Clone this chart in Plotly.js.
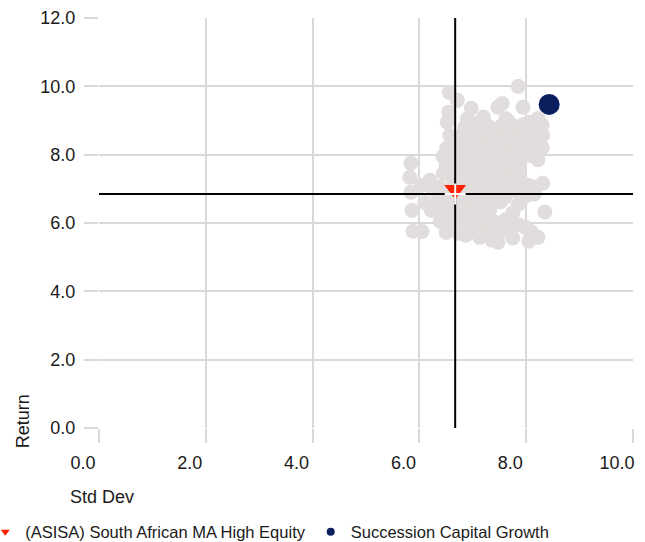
<!DOCTYPE html>
<html>
<head>
<meta charset="utf-8">
<script src="https://cdn.plot.ly/plotly-3.0.1.min.js"></script>
<style>html,body{margin:0;padding:0;background:#fff;}#chart{width:645px;height:542px;}</style>
</head>
<body>
<div id="chart"></div>
<script>
// Peer funds (grey cloud)
const peerStdDev = [5.84,5.82,5.84,5.86,5.88,6.05,6.20,6.25,6.22,6.39,6.50,6.44,6.50,6.56,6.71,6.55,6.52,6.57,6.51,6.97,7.47,7.55,7.85,7.94,8.22,8.30,8.31,8.25,8.22,8.31,8.35,8.22,8.05,8.09,7.75,7.47,7.36,7.13,6.87,6.73,6.62,6.03,6.10,6.35,6.40,6.60,6.58,6.45,6.63,6.65,6.70,6.62,6.85,6.95,7.10,7.20,7.35,7.45,7.60,7.70,7.80,7.90,8.00,8.10,6.80,6.95,7.05,7.15,7.30,7.40,7.50,7.65,7.75,7.90,8.15,6.85,7.00,7.20,7.30,7.45,7.60,7.75,7.95,8.05,6.80,6.95,7.10,7.25,7.40,7.60,7.78,7.85,8.00,6.80,6.95,7.10,7.25,7.30,7.55,7.75,7.85,6.90,7.20,8.30,7.62,8.05,7.83,7.42,7.19,6.99,
  6.82,7.00,7.27,7.52,7.95,8.15,6.78,7.08,7.30,7.55,7.72,7.98,8.18,6.88,7.18,7.38,7.57,7.85,8.05,6.72,7.02,7.22,7.42,7.60,7.82,8.05,6.85,7.05,7.25,7.58,7.88,6.72,7.02,7.35,7.55,7.85,6.78,7.12,7.40,7.68,7.88,8.18,6.88,7.18,7.50,7.95,8.15,6.72,7.00,7.30,7.52,7.92,6.82,7.08,7.32,6.90,7.15,7.42,7.62,6.78,7.05,7.38,7.65,7.98,6.38,6.48,7.65];
const peerReturn = [7.75,7.34,6.90,6.37,5.76,5.75,7.25,6.98,6.37,6.05,5.72,7.95,7.68,9.82,9.59,9.24,8.95,8.56,8.18,9.36,9.39,9.50,10.00,9.39,9.06,8.86,8.57,8.10,7.85,7.16,6.32,5.58,5.47,5.75,5.56,5.44,5.50,5.58,5.64,5.70,5.85,7.10,6.60,6.70,6.35,6.20,6.55,7.45,7.25,7.90,8.35,6.90,8.80,8.55,8.70,8.40,8.65,8.30,8.60,8.90,8.45,8.70,8.30,8.60,8.05,7.80,8.10,7.70,7.95,7.60,7.85,8.10,7.70,7.95,8.00,7.40,7.15,7.35,7.05,7.30,7.10,7.40,7.15,7.10,6.75,6.50,6.80,6.55,6.85,6.75,6.95,6.55,6.80,6.20,5.95,6.25,5.90,6.20,5.85,6.30,5.95,9.05,9.10,8.20,9.05,8.95,8.80,8.71,8.77,8.92,
  8.62,8.78,8.85,8.82,8.88,8.78,8.48,8.45,8.50,8.42,8.55,8.52,8.35,8.25,8.18,8.12,8.22,8.20,8.12,7.72,7.98,8.02,7.92,7.88,7.92,7.98,7.65,7.60,7.55,7.65,7.70,7.45,7.42,7.42,7.50,7.55,7.18,7.22,7.15,7.25,7.30,7.05,6.98,7.00,6.98,6.95,6.85,6.60,6.72,6.75,6.62,6.70,6.42,6.48,6.40,6.18,6.05,6.02,6.10,5.90,5.80,5.75,5.78,5.88,7.05,6.82,9.00];

// Category average and fund
const categoryName = '(ASISA) South African MA High Equity';
const categoryStdDev = [6.67];
const categoryReturn = [6.85];
const fundName = 'Succession Capital Growth';
const fundStdDev = [8.43];
const fundReturn = [9.47];

// Axes
const xTicks = [0, 2, 4, 6, 8, 10];
const yTicks = [0, 2, 4, 6, 8, 10, 12];
const xRange = [0, 10];
const yRange = [0, 12];

const FONT = 'Liberation Sans, Arial, sans-serif';
const GRID = '#d9d9d9';

const traces = [
  {type:'scatter', mode:'markers', x:peerStdDev, y:peerReturn, showlegend:false, hoverinfo:'skip',
   marker:{size:15, color:'#e1dddc', line:{width:0}}},
  {type:'scatter', mode:'lines', x:[categoryStdDev[0], categoryStdDev[0]], y:yRange, showlegend:false,
   line:{color:'#000', width:2}, cliponaxis:false, hoverinfo:'skip'},
  {type:'scatter', mode:'lines', x:xRange, y:[categoryReturn[0], categoryReturn[0]], showlegend:false,
   line:{color:'#000', width:2}, cliponaxis:false, hoverinfo:'skip'},
  {type:'scatter', mode:'markers', x:categoryStdDev, y:categoryReturn, showlegend:false, cliponaxis:false,
   marker:{symbol:'triangle-up', angle:180, standoff:4.3, size:19, color:'#ff2000', line:{width:0}}},
  {type:'scatter', mode:'markers', x:categoryStdDev, y:categoryReturn, showlegend:false, cliponaxis:false, hoverinfo:'skip',
   marker:{symbol:'cross-thin', size:15, color:'#ffffff', line:{width:2, color:'#ffffff'}}},
  {type:'scatter', mode:'markers', x:fundStdDev, y:fundReturn, showlegend:false, cliponaxis:false,
   marker:{size:21, color:'#0b1f5e', line:{width:0}}},
  // legend entries
  {type:'scatter', mode:'markers', x:[null], y:[null], name:categoryName, showlegend:true,
   marker:{symbol:'triangle-down', size:8, color:'#ff2000'}},
  {type:'scatter', mode:'markers', x:[null], y:[null], name:fundName, showlegend:true,
   marker:{symbol:'circle', size:8, color:'#0b1f5e'}}
];

const layout = {
  width:645, height:542,
  margin:{l:99, r:12, t:18, b:114, autoexpand:false},
  paper_bgcolor:'#fff', plot_bgcolor:'#fff',
  font:{family:FONT, size:18, color:'#1a1a1a'},
  xaxis:{range:xRange, tickvals:xTicks, ticktext:xTicks.map(v=>v.toFixed(1)), showgrid:true, gridcolor:GRID, gridwidth:2,
    zeroline:false, showline:false, ticks:'outside', ticklen:14, tickwidth:2, tickcolor:GRID,
    ticklabelshift:-16, ticklabelstandoff:4, automargin:false, fixedrange:true},
  yaxis:{range:yRange, tickvals:yTicks, ticktext:yTicks.map(v=>v.toFixed(1)), showgrid:true, gridcolor:GRID, gridwidth:2,
    zeroline:false, showline:false, ticks:'outside', ticklen:14, tickwidth:2, tickcolor:GRID,
    ticklabelstandoff:5, automargin:false, fixedrange:true},
  showlegend:true,
  legend:{orientation:'h', x:-0.213, xanchor:'left', y:-0.2535, yanchor:'middle',
    font:{family:FONT, size:16.5, color:'#1a1a1a'}, bgcolor:'rgba(0,0,0,0)', traceorder:'normal', itemclick:false, itemdoubleclick:false},
  annotations:[
    {text:'Std Dev', xref:'paper', yref:'paper', x:-0.058, y:-0.168, xanchor:'left', yanchor:'middle', showarrow:false,
     font:{family:FONT, size:18, color:'#1a1a1a'}},
    {text:'Return', xref:'paper', yref:'paper', x:-0.142, y:0.017, xanchor:'center', yanchor:'middle', textangle:-90, showarrow:false,
     font:{family:FONT, size:18, color:'#1a1a1a'}}
  ]
};

Plotly.newPlot('chart', traces, layout, {displayModeBar:false, staticPlot:true});
</script>
</body>
</html>
